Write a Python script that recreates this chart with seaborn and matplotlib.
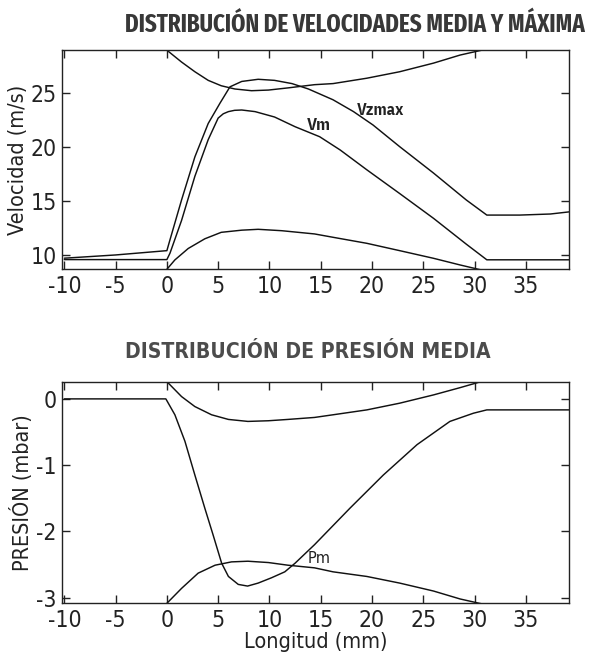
import matplotlib
matplotlib.use("Agg")
import matplotlib.pyplot as plt
import seaborn as sns
from matplotlib import font_manager
from matplotlib.font_manager import FontProperties
from matplotlib.textpath import TextPath

sns.set_theme(style="ticks")
plt.rcParams['font.family'] = ['DejaVu Sans']

# ---- Top chart: velocities ----
vzmax_x = [-10, -5, 0, 0.3, 1.43, 2.73, 4.03, 5.17, 6.15, 7.3, 8.9, 10.5, 12.2, 13.8, 16.2, 18.2, 20.1, 22.7, 26.0, 29.2, 31.2, 34.4, 37.4, 39.25]
vzmax_y = [9.7, 10.0, 10.4, 11.4, 15.1, 19.1, 22.2, 24.07, 25.6, 26.1, 26.3, 26.2, 25.9, 25.4, 24.4, 23.3, 22.06, 20.05, 17.6, 15.1, 13.7, 13.7, 13.8, 14.0]

vm_x = [-10, 0, 0.3, 1.43, 2.73, 4.03, 5.0, 5.5, 6.0, 6.6, 7.3, 8.6, 10.5, 12.5, 14.9, 16.9, 19.5, 22.7, 26.0, 29.2, 31.2, 39.25]
vm_y = [9.57, 9.57, 10.16, 13.2, 17.3, 20.7, 22.7, 23.1, 23.3, 23.42, 23.45, 23.3, 22.8, 21.9, 20.97, 19.74, 17.9, 15.7, 13.4, 11.0, 9.55, 9.55]

vup_x = [0.13, 1.43, 2.73, 4.03, 5.3, 6.63, 8.26, 9.9, 11.8, 14.4, 16.2, 19.5, 22.7, 26.0, 28.6, 30.7]
vup_y = [28.9, 27.9, 27.0, 26.2, 25.7, 25.4, 25.24, 25.3, 25.5, 25.8, 25.9, 26.4, 27.0, 27.8, 28.55, 29.0]

vlo_x = [0.0, 0.78, 2.08, 3.7, 5.3, 7.3, 8.9, 11.2, 14.4, 16.2, 19.5, 22.7, 26.0, 28.6, 30.7]
vlo_y = [8.67, 9.54, 10.6, 11.5, 12.1, 12.3, 12.38, 12.25, 11.95, 11.64, 11.08, 10.4, 9.69, 9.07, 8.6]

# ---- Bottom chart: pressure ----
pm_x = [-10, -0.1, 0.78, 1.76, 2.73, 3.7, 4.5, 5.34, 6.0, 6.96, 7.87, 8.9, 10.2, 11.5, 12.5, 14.4, 17.85, 21.1, 24.4, 27.6, 29.9, 31.2, 39.25]
pm_y = [0.0, 0.0, -0.24, -0.64, -1.15, -1.65, -2.05, -2.48, -2.68, -2.80, -2.825, -2.78, -2.70, -2.61, -2.48, -2.2, -1.65, -1.15, -0.69, -0.34, -0.216, -0.166, -0.166]

pup_x = [0.13, 1.43, 2.73, 4.36, 6.0, 7.9, 9.9, 11.8, 14.4, 16.2, 19.5, 22.7, 26.0, 28.6, 30.4]
pup_y = [0.24, 0.035, -0.116, -0.24, -0.31, -0.34, -0.33, -0.31, -0.28, -0.24, -0.166, -0.065, 0.06, 0.17, 0.25]

plo_x = [0.0, 1.43, 3.05, 4.7, 6.3, 7.9, 9.9, 11.8, 14.4, 16.2, 19.5, 22.7, 26.0, 28.6, 30.9]
plo_y = [-3.085, -2.86, -2.63, -2.51, -2.46, -2.45, -2.47, -2.51, -2.55, -2.61, -2.68, -2.78, -2.90, -3.02, -3.1]

x_ticks = [-10, -5, 0, 5, 10, 15, 20, 25, 30, 35]
v_ticks = [10, 15, 20, 25]
p_ticks = [0, -1, -2, -3]

title_top = "DISTRIBUCIÓN DE VELOCIDADES MEDIA Y MÁXIMA"
title_bot = "DISTRIBUCIÓN DE PRESIÓN MEDIA"


def _is_bold(f):
    w = f.weight
    if isinstance(w, str):
        return w == "bold"
    return w == 700


def _is_regular(f):
    w = f.weight
    if isinstance(w, str):
        return w in ("normal", "regular", "book")
    return w == 400


def pick_font(bold, sample, aspect_target):
    """Pick the condensed/narrow face whose width/em ratio for `sample`
    is closest to what the reference shows."""
    best = None
    for f in font_manager.fontManager.ttflist:
        fn = f.fname.lower()
        if not ("condensed" in fn or "narrow" in fn):
            continue
        if f.style != "normal":
            continue
        if bold and not _is_bold(f):
            continue
        if (not bold) and not _is_regular(f):
            continue
        try:
            fp = FontProperties(fname=f.fname, size=10)
            tp = TextPath((0, 0), sample, prop=fp)
            ratio = tp.get_extents().width / 10.0
        except Exception:
            continue
        score = abs(ratio - aspect_target)
        if best is None or score < best[0]:
            best = (score, f.fname)
    if best is None:
        return FontProperties(family="Liberation Sans", weight="bold" if bold else "normal")
    return FontProperties(fname=best[1])


fp_title1 = pick_font(True, title_top, 460.0 / 25.0)
fp_title2 = pick_font(True, title_bot, 367.0 / 21.0)
fp_reg = pick_font(False, "-10", 32.0 / 23.5)
fp_ann = pick_font(True, "Vzmax", 47.0 / 16.4)

fig = plt.figure(figsize=(5.91, 6.61), dpi=100)
ax1 = fig.add_axes([0.1054, 0.5926, 0.858, 0.3318])
ax2 = fig.add_axes([0.1054, 0.0873, 0.858, 0.3343])

lw = 1.05
for xs, ys in [(vzmax_x, vzmax_y), (vm_x, vm_y), (vup_x, vup_y), (vlo_x, vlo_y)]:
    sns.lineplot(x=xs, y=ys, ax=ax1, color="#111111", lw=lw, sort=False, estimator=None)
for xs, ys in [(pm_x, pm_y), (pup_x, pup_y), (plo_x, plo_y)]:
    sns.lineplot(x=xs, y=ys, ax=ax2, color="#111111", lw=lw, sort=False, estimator=None)

ax1.set_xlim(-10.2, 39.25)
ax1.set_ylim(8.67, 29.02)
ax2.set_xlim(-10.2, 39.25)
ax2.set_ylim(-3.085, 0.25)

tick_fp = fp_reg.copy()
tick_fp.set_size(16.5)
lab_fp = fp_reg.copy()
lab_fp.set_size(15.5)

for ax, yt in [(ax1, v_ticks), (ax2, p_ticks)]:
    ax.set_xticks(x_ticks)
    ax.set_xticklabels([str(t) for t in x_ticks])
    ax.set_yticks(yt)
    ax.set_yticklabels([str(t) for t in yt])
    ax.tick_params(direction="in", top=True, right=True, length=6, width=1,
                   colors="#222222", pad=4)
    for lab in ax.get_xticklabels() + ax.get_yticklabels():
        lab.set_fontproperties(tick_fp)
    for s in ax.spines.values():
        s.set_visible(True)
        s.set_color("#222222")
        s.set_linewidth(1.0)

ax1.set_ylabel("Velocidad (m/s)", fontproperties=lab_fp, labelpad=2, color="#222222")
ax2.set_ylabel("PRESIÓN (mbar)", fontproperties=lab_fp, labelpad=2, color="#222222")
ax2.set_xlabel("Longitud (mm)", fontproperties=lab_fp, labelpad=0, color="#222222")
ax1.set_xlabel("")

ann_b = fp_ann.copy(); ann_b.set_size(13)
ann_r = fp_reg.copy(); ann_r.set_size(13)
a1 = ax1.text(20.8, 23.45, "Vzmax", fontproperties=ann_b.copy(), ha="center", va="center", color="#222222")
a2 = ax1.text(14.8, 21.97, "Vm", fontproperties=ann_b.copy(), ha="center", va="center", color="#222222")
a3 = ax2.text(14.8, -2.41, "Pm", fontproperties=ann_r.copy(), ha="center", va="center", color="#222222")

tt_fp = fp_title1.copy(); tt_fp.set_size(18)
tb_fp = fp_title2.copy(); tb_fp.set_size(16)
t1 = fig.text(0.6007, 0.9630, title_top, fontproperties=tt_fp, ha="center", va="center", color="#383838")
t2 = fig.text(0.520, 0.467, title_bot, fontproperties=tb_fp, ha="center", va="center", color="#4c4c4c")

# fit texts to the widths measured on the reference
fig.canvas.draw()
r = fig.canvas.get_renderer()
for t, target, cap in [(t1, 460.0, 19.5), (t2, 367.0, 17.5), (a1, 47.0, 15), (a2, 24.0, 15), (a3, 23.0, 15)]:
    w = t.get_window_extent(r).width
    fs = t.get_fontsize() * target / w
    t.set_fontsize(min(fs, cap))

fig.savefig("out.png", dpi=100, facecolor="white")
